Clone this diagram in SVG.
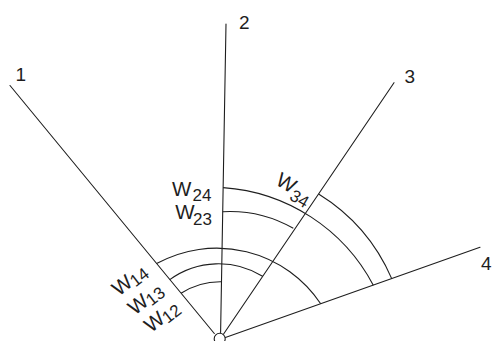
<svg xmlns="http://www.w3.org/2000/svg" width="492" height="341" viewBox="0 0 492 341">
<style>
.ln{stroke:#1e1e1e;stroke-width:1.1;fill:none;stroke-linecap:round}
.arc{stroke:#1e1e1e;stroke-width:1.1;fill:none}
.num{font-family:"Liberation Sans",Arial,sans-serif;font-size:19px;fill:#1e1e1e}
.w{font-family:"Liberation Sans",Arial,sans-serif;font-size:20.5px;fill:#1e1e1e}
.s{font-size:17px}
</style>
<rect width="492" height="341" fill="#ffffff"/>
<g id="ray1"><line class="ln" x1="10" y1="85.5" x2="214.3" y2="333.5"/><text class="num" x="15.5" y="80.5">1</text></g>
<g id="ray2"><line class="ln" x1="226" y1="24" x2="220.6" y2="332.6"/><text class="num" x="239" y="28.8">2</text></g>
<g id="ray3"><line class="ln" x1="394" y1="82.7" x2="223.6" y2="334"/><text class="num" x="404.5" y="82.8">3</text></g>
<g id="ray4"><line class="ln" x1="480" y1="247.3" x2="225.4" y2="337.4"/><text class="num" x="481" y="269.8">4</text></g>
<g id="origin"><circle cx="219.7" cy="338.7" r="5.5" fill="#ffffff" stroke="#1e1e1e" stroke-width="1.1"/></g>
<g id="arcs">
<path id="w12" class="arc" d="M181,293.3 A72,72 0 0 1 221.4,281.7"/>
<path id="w13" class="arc" d="M169.8,279.6 A83.4,83.4 0 0 1 262.6,276.3"/>
<path id="w14" class="arc" d="M156.6,263.6 A124.8,124.8 0 0 1 320.7,303.8"/>
<path id="w23" class="arc" d="M222.7,211.7 A128.1,128.1 0 0 1 293.3,228.3"/>
<path id="w24" class="arc" d="M223.1,187.6 A184,184 0 0 1 373.3,285.2"/>
<path id="w34" class="arc" d="M318.6,194 A186.1,186.1 0 0 1 391.7,278.6"/>
</g>
<g id="labels">
<text class="w" x="172" y="195.5">W<tspan class="s" x="192.5" y="201">24</tspan></text>
<text class="w" x="175.3" y="218.5">W<tspan class="s" x="193" y="225">23</tspan></text>
<text class="w" transform="translate(274.5,184) rotate(30)">W<tspan class="s" x="19.5" y="6">34</tspan></text>
<text class="w" transform="translate(151,333.3) rotate(-38)">W<tspan class="s" x="19" y="3">12</tspan></text>
<text class="w" transform="translate(134.7,315.8) rotate(-38)">W<tspan class="s" x="19" y="3">13</tspan></text>
<text class="w" transform="translate(118.7,296.8) rotate(-38)">W<tspan class="s" x="19" y="3">14</tspan></text>
</g>
</svg>
